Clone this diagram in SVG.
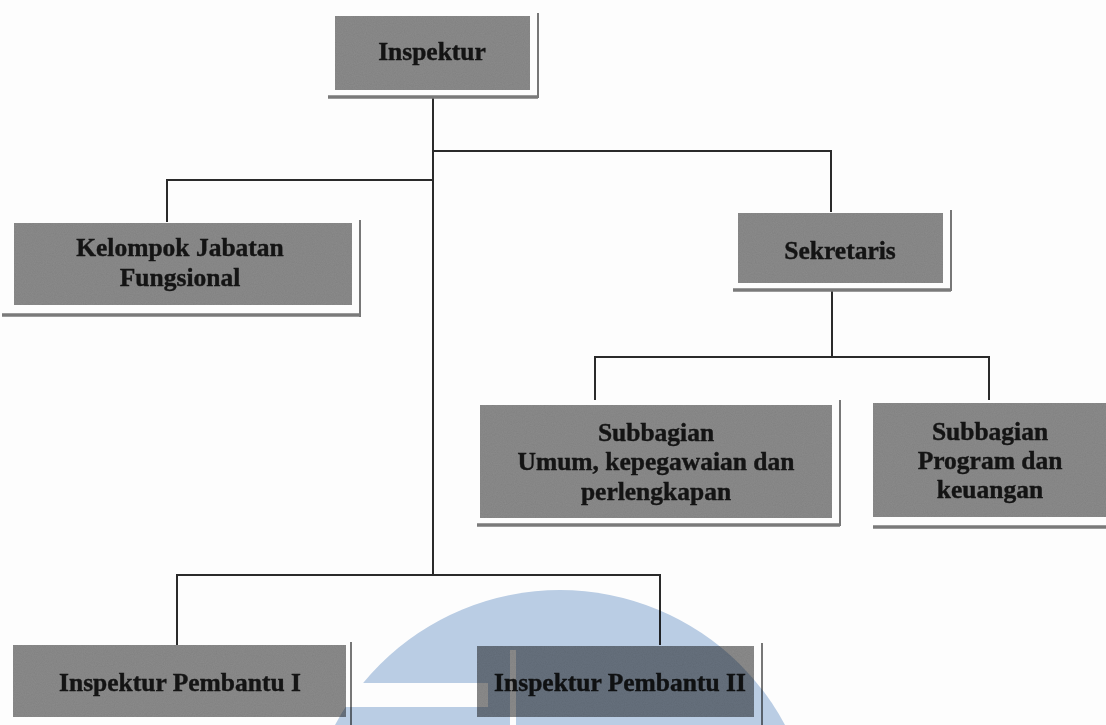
<svg xmlns="http://www.w3.org/2000/svg" width="1106" height="725" viewBox="0 0 1106 725">
<style>
.box{fill:#8c8c8c}
.sh-r{stroke:#555;stroke-width:1.6;fill:none}
.sh-b{stroke:#7a7a7a;stroke-width:3.5;fill:none}
.lbl{font-family:"Liberation Serif","Times New Roman",serif;font-weight:bold;font-size:25.5px;fill:#141414;stroke:#141414;stroke-width:0.4;text-anchor:middle}
.conn{stroke:#2a2a2a;stroke-width:2;fill:none}
</style>
<defs>
<filter id="noise" x="0" y="0" width="100%" height="100%">
<feTurbulence type="fractalNoise" baseFrequency="0.9" numOctaves="2" seed="3" result="n"/>
<feColorMatrix in="n" type="matrix" values="0 0 0 0 0.5  0 0 0 0 0.5  0 0 0 0 0.5  0 0 0 0.35 0" result="g"/>
<feComposite in="g" in2="SourceGraphic" operator="in" result="gi"/>
<feBlend in="gi" in2="SourceGraphic" mode="multiply"/>
</filter>
</defs>
<rect width="1106" height="725" fill="#fdfdfd"/>
<g id="connectors">
<path class="conn" d="M433 97 V575"/>
<path class="conn" d="M433 151 H831 V212"/>
<path class="conn" d="M433 180 H167 V222"/>
<path class="conn" d="M832 291 V357"/>
<path class="conn" d="M595 400 V357 H989 V400"/>
<path class="conn" d="M433 575 H177 V645"/>
<path class="conn" d="M433 575 H660 V645"/>
</g>
<g id="inspektur">
<rect class="box" x="335" y="16" width="195" height="74" filter="url(#noise)"/>
<path class="sh-r" d="M538 13 V98"/>
<path class="sh-b" d="M328 97 H538"/>
<text class="lbl" x="432" y="60">Inspektur</text>
</g>
<g id="kelompok">
<rect class="box" x="14" y="223" width="338" height="82" filter="url(#noise)"/>
<path class="sh-r" d="M360 220 V317"/>
<path class="sh-b" d="M2 315 H360"/>
<text class="lbl" x="180" y="256">Kelompok Jabatan</text>
<text class="lbl" x="180" y="286">Fungsional</text>
</g>
<g id="sekretaris">
<rect class="box" x="738" y="213" width="205" height="70" filter="url(#noise)"/>
<path class="sh-r" d="M951 210 V291"/>
<path class="sh-b" d="M733 290 H951"/>
<text class="lbl" x="840" y="259">Sekretaris</text>
</g>
<g id="subbagian-umum">
<rect class="box" x="480" y="405" width="352" height="113" filter="url(#noise)"/>
<path class="sh-r" d="M840 400 V526"/>
<path class="sh-b" d="M477 525 H840"/>
<text class="lbl" x="656" y="441">Subbagian</text>
<text class="lbl" x="656" y="470">Umum, kepegawaian  dan</text>
<text class="lbl" x="656" y="500">perlengkapan</text>
</g>
<g id="subbagian-program">
<rect class="box" x="873" y="403" width="233" height="114" filter="url(#noise)"/>
<path class="sh-b" d="M873 527 H1106"/>
<text class="lbl" x="990" y="440">Subbagian</text>
<text class="lbl" x="990" y="469">Program dan</text>
<text class="lbl" x="990" y="498">keuangan</text>
</g>
<g id="inspektur-pembantu-1">
<rect class="box" x="13" y="645" width="333" height="72" filter="url(#noise)"/>
<path class="sh-r" d="M351 642 V725"/>
<text class="lbl" x="180" y="691">Inspektur Pembantu I</text>
</g>
<g id="inspektur-pembantu-2">
<rect class="box" x="477" y="646" width="277" height="71" filter="url(#noise)"/>
<path class="sh-r" d="M762 643 V725"/>
<text class="lbl" x="620" y="691">Inspektur Pembantu II</text>
</g>
<g id="watermark" style="mix-blend-mode:multiply">
<circle cx="560" cy="845" r="255" fill="#bccfe6"/>
<rect x="290" y="683" width="198" height="24" fill="#fff"/>
<rect x="510" y="650" width="6" height="75" fill="#fff"/>
</g>
</svg>
